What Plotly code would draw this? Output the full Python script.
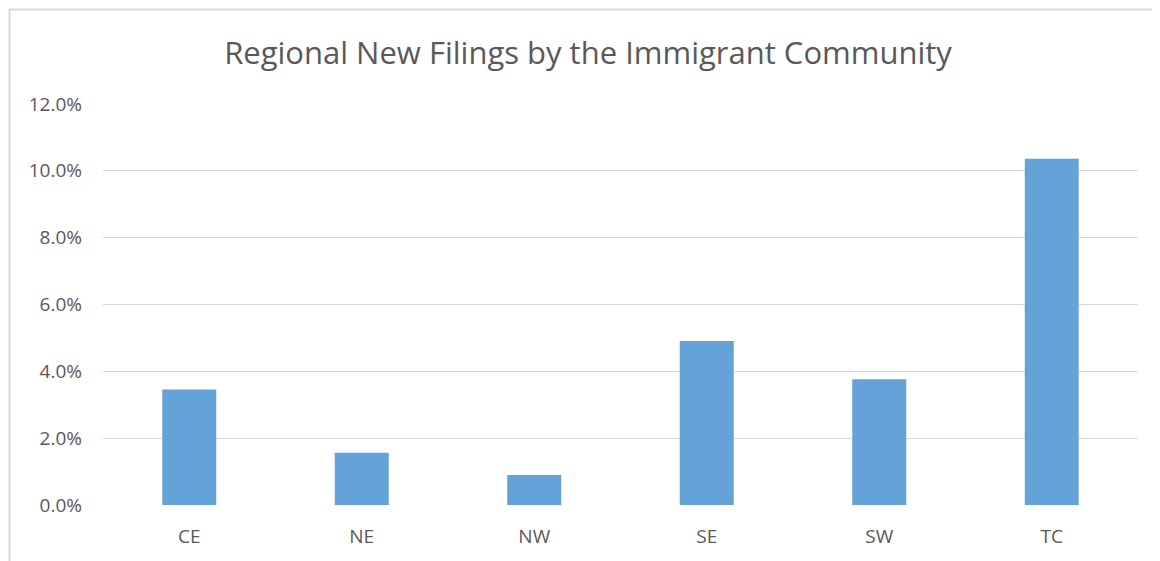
import plotly.graph_objects as go

categories = ["CE", "NE", "NW", "SE", "SW", "TC"]
values = [0.0346, 0.0156, 0.0090, 0.0491, 0.0376, 0.1036]
tick_vals = [0, 0.02, 0.04, 0.06, 0.08, 0.10, 0.12]
tick_text = ["0.0%", "2.0%", "4.0%", "6.0%", "8.0%", "10.0%", "12.0%"]

W, H = 1160, 561
OFF = 8  # page offset of the rendered figure
L, T = 103 - OFF, 104 - OFF
R = W - (1138 - OFF)
B = H - (505.3 - OFF)
pw, ph = W - L - R, H - T - B

def px(x):
    return (x - OFF - L) / pw

def py(y):
    return (H - B - (y - OFF)) / ph

fig = go.Figure(go.Bar(
    x=categories, y=values,
    marker=dict(color="#65A2D8", line=dict(width=0)),
    width=0.313,
))

fig.update_layout(
    width=W, height=H,
    margin=dict(l=L, r=R, t=T, b=B),
    paper_bgcolor="white", plot_bgcolor="white",
    showlegend=False,
    title=dict(text="Regional New Filings by the Immigrant Community",
               x=0.5, xanchor="center", y=1 - (53 - OFF) / H, yanchor="middle",
               font=dict(family="Open Sans", size=31, color="#595959")),
    font=dict(family="Open Sans", color="#595959", size=19),
    xaxis=dict(showgrid=False, showline=False, zeroline=False, ticks="",
               ticklabelstandoff=18,
               tickfont=dict(size=19, color="#595959")),
    yaxis=dict(range=[0, 0.12], tickvals=tick_vals, ticktext=tick_text,
               showgrid=True, gridcolor="#d9d9d9", gridwidth=1,
               zeroline=False, showline=False, ticks="", ticklabelstandoff=20,
               tickfont=dict(size=19, color="#595959")),
    shapes=[
        dict(type="line", xref="paper", yref="paper",
             x0=px(9), x1=px(1175), y0=py(9.5), y1=py(9.5),
             line=dict(color="#d9d9d9", width=2)),
        dict(type="line", xref="paper", yref="paper",
             x0=px(9.5), x1=px(9.5), y0=py(9), y1=py(580),
             line=dict(color="#d9d9d9", width=2)),
    ],
)

fig.write_html("out.html")
